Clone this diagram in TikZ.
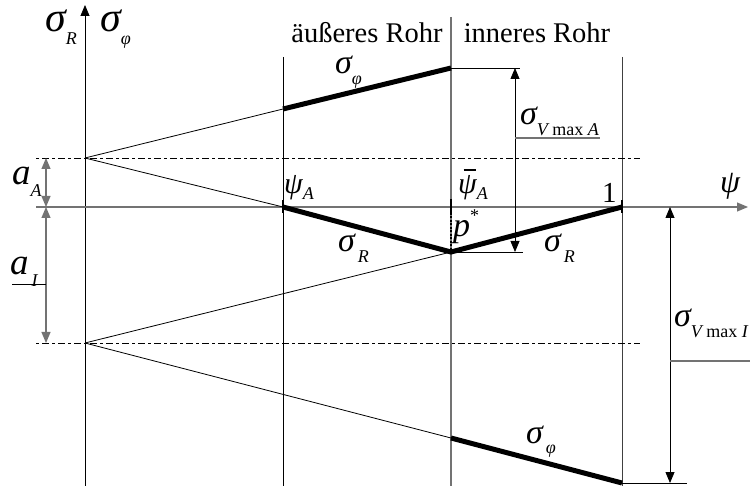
\documentclass[tikz,border=0pt]{standalone}
\usepackage{fontspec}
\setmainfont{Liberation Serif}
\usetikzlibrary{arrows.meta}
\newcommand\mysub[1]{\raisebox{-0.3em}{\fontsize{18}{18}\selectfont #1}}
\newcommand\gr[1]{{\itshape #1}}
\begin{document}
\begin{tikzpicture}[x=1pt,y=-1pt,
  thinln/.style={line width=0.8pt},
  grayln/.style={line width=1.1pt, draw=black!55},
  thickln/.style={line width=5pt},
  tipend/.style={-{Triangle[length=11pt,width=9pt]}},
  dimboth/.style={{Triangle[length=11pt,width=9pt]}-{Triangle[length=11pt,width=9pt]}},
  dashdot/.style={line width=0.8pt, dash pattern=on 3pt off 3pt on 7pt off 3pt},
  lbl/.style={inner sep=0pt, anchor=base west, font=\fontsize{34}{36}\selectfont},
  biglbl/.style={lbl, font=\fontsize{42}{44}\selectfont},
  txt/.style={inner sep=0pt, anchor=base, font=\fontsize{28.5}{30}\selectfont}
]
\useasboundingbox (0,0) rectangle (750,486);
% coordinates
\coordinate (vtop) at (85,5);
\coordinate (vbot) at (85,486);
\coordinate (hl) at (36,207);
\coordinate (hr) at (748,207);
\coordinate (pA) at (85,158);
\coordinate (pI) at (85,343);
\coordinate (dAl) at (36,158);
\coordinate (dAr) at (640,158);
\coordinate (dIl) at (36,343);
\coordinate (dIr) at (640,343);
\coordinate (l1t) at (283,57);
\coordinate (l1b) at (283,486);
\coordinate (l2t) at (451,17);
\coordinate (l2b) at (451,486);
\coordinate (l3t) at (622,57);
\coordinate (l3b) at (622,486);
\coordinate (a1) at (283,109);
\coordinate (a2) at (451,68);
\coordinate (r1) at (283,207);
\coordinate (r2) at (451,252);
\coordinate (r3) at (622,207);
\coordinate (q1) at (451,438);
\coordinate (q2) at (622,483);
% axes
\draw[thinln, tipend] (vbot) -- (vtop);
\draw[grayln, tipend] (hl) -- (hr);
% vertical lines
\draw[thinln] (l1t) -- (l1b);
\draw[grayln] (l2t) -- (l2b);
\draw[thinln, draw=black!75] (l3t) -- (l3b);
% dash-dot lines
\draw[dashdot] (dAl) -- (dAr);
\draw[dashdot] (dIl) -- (dIr);
% thin construction lines
\draw[thinln] (pA) -- (a1);
\draw[thinln] (pA) -- (r1);
\draw[thinln] (pI) -- (r2);
\draw[thinln] (pI) -- (q1);
% thick stress lines
\draw[thickln] (a1) -- (a2);
\draw[thickln, line join=miter] (r1) -- (r2) -- (r3);
\draw[thickln] (q1) -- (q2);
% ticks
\draw[line width=2.5pt] (283,200) -- (283,213);
\draw[line width=2.5pt] (622,200) -- (622,213);
\draw[line width=2.5pt] (451,199) -- (451,213);
\draw[line width=2.5pt, dash pattern=on 2pt off 1.5pt] (451,213) -- (r2);
% a_A, a_I dimensions
\coordinate (aAt) at (46,158);
\coordinate (aAb) at (46,207);
\coordinate (aIt) at (46,207);
\coordinate (aIb) at (46,343);
\draw[grayln, dimboth] (aAt) -- (aAb);
\draw[grayln, dimboth] (aIt) -- (aIb);
\coordinate (aIl) at (12,284);
\coordinate (aIr) at (46,284);
\draw[thinln] (aIl) -- (aIr);
% sigma V max A
\coordinate (vAt) at (515,68);
\coordinate (vAb) at (515,252);
\coordinate (a2r) at (520,68);
\coordinate (r2r) at (523,252);
\draw[thinln] (a2) -- (a2r);
\draw[thinln] (r2) -- (r2r);
\draw[thinln, dimboth] (vAt) -- (vAb);
\coordinate (vAl1) at (515,138);
\coordinate (vAl2) at (600,138);
\draw[grayln] (vAl1) -- (vAl2);
% sigma V max I
\coordinate (vIt) at (670,207);
\coordinate (vIb) at (670,483);
\coordinate (q2r) at (687,483);
\draw[thinln] (q2) -- (q2r);
\draw[thinln, dimboth] (vIt) -- (vIb);
\coordinate (vIl1) at (670,361);
\coordinate (vIl2) at (750,361);
\draw[grayln] (vIl1) -- (vIl2);
% labels
\node[biglbl] (sRtop) at (45,32) {\gr{σ}\mysub{\gr{R}}};
\node[biglbl] (sPtop) at (100,32) {\gr{σ}\mysub{\gr{φ}}};
\node[txt] (aus) at (367,43) {äußeres Rohr};
\node[txt] (inn) at (537,43) {inneres Rohr};
\node[lbl] (sPup) at (335,74) {\gr{σ}\mysub{\gr{φ}}};
\node[lbl] (sRmid) at (338,252) {\gr{σ}\mysub{\,\gr{R}}};
\node[lbl] (sRright) at (544,252) {\gr{σ}\mysub{\,\gr{R}}};
\node[lbl] (sPlow) at (526,443) {\gr{σ}\mysub{\,\gr{φ}}};
\node[lbl] (sVA) at (520,125) {\gr{σ}\mysub{\gr{V} max \gr{A}}};
\node[lbl] (sVI) at (674,327) {\gr{σ}\mysub{\gr{V} max \gr{I}}};
\node[lbl, font=\fontsize{30}{30}\selectfont] (psiA) at (284,194) {\gr{ψ}\raisebox{-0.2em}{\fontsize{18}{18}\selectfont\itshape A}};
\node[lbl, font=\fontsize{30}{30}\selectfont] (psiB) at (458,194) {\gr{ψ}\llap{\raisebox{0.78em}{\rule{0.42em}{0.05em}}\hspace{0.02em}}\raisebox{-0.2em}{\fontsize{18}{18}\selectfont\itshape A}};
\node[lbl, font=\fontsize{29}{30}\selectfont] (one) at (602,203) {1};
\node[lbl] (pst) at (453,237) {\gr{p}\raisebox{0.45em}{\fontsize{18}{18}\selectfont *}};
\node[lbl, font=\fontsize{32}{32}\selectfont] (psiax) at (720,193) {\gr{ψ}};
\node[lbl, font=\fontsize{37}{37}\selectfont] (aA) at (12,185) {\gr{a}\mysub{\gr{A}}};
\node[lbl, font=\fontsize{37}{37}\selectfont] (aI) at (10,275) {\gr{a}\mysub{\,\gr{I}}};
\end{tikzpicture}
\end{document}
